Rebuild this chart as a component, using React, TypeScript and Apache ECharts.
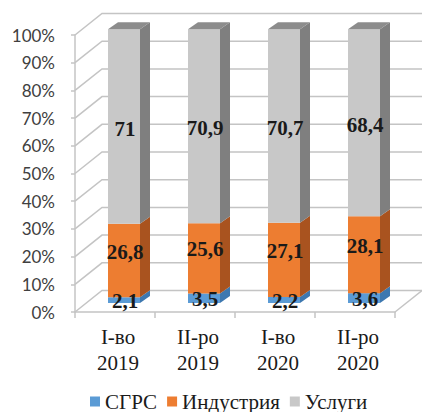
import React, { useEffect, useRef } from "react";
import * as echarts from "echarts";

// Periods on the category axis
const categories = ["I-во\n2019", "II-ро\n2019", "I-во\n2020", "II-ро\n2020"];
// Structure shares, %
const sgrs = [2.1, 3.5, 2.2, 3.6];
const industry = [26.8, 25.6, 27.1, 28.1];
const services = [71, 70.9, 70.7, 68.4];
// Value axis ticks, %
const yTicks = [0, 10, 20, 30, 40, 50, 60, 70, 80, 90, 100];

const seriesNames = ["СГРС", "Индустрия", "Услуги"];
const seriesValues = [sgrs, industry, services];
const frontColors = ["#5B9BD5", "#ED7D31", "#C8C8C8"];
const sideColors = ["#3D78B0", "#A9531F", "#7F7F7F"];
const topColors = ["#4A88C4", "#C8662A", "#8C8C8C"];
const labelShift = [1, -9, 2];

// 3D look: depth of the walls and of the bars
const WALL_DX = 27;
const WALL_DY = -21.5;
const BAR_DX = 9;
const BAR_DY = -9;
const BAR_W = 32;
const SIDE_DX = 10;
const SIDE_DY = -7;

const fmt = (v: number) => String(v).replace(".", ",");

export default function App() {
  const ref = useRef<HTMLDivElement>(null);

  useEffect(() => {
    if (!ref.current) return;
    const chart = echarts.init(ref.current, null, { renderer: "svg" });

    // 100% stacked layout built from the series values
    const stacks = seriesValues.map(() => [] as number[][]);
    categories.forEach((_, i) => {
      const total = seriesValues.reduce((s, arr) => s + arr[i], 0);
      let acc = 0;
      seriesValues.forEach((arr, k) => {
        const lo = (acc / total) * 100;
        acc += arr[i];
        const hi = (acc / total) * 100;
        stacks[k].push([i, lo, hi, arr[i], k === seriesValues.length - 1 ? 1 : 0]);
      });
    });

    const wallSeries = {
      type: "custom",
      name: "walls",
      silent: true,
      clip: false,
      z: 1,
      data: yTicks.map((t) => [0, t]),
      renderItem: (params: any, api: any) => {
        const t = api.value(1);
        const pL = api.coord([0, t]);
        const pR = api.coord([categories.length - 1, t]);
        const band = api.size([1, 0])[0];
        const x0 = pL[0] - band / 2;
        const x1 = pR[0] + band / 2;
        const y = pL[1];
        const children: any[] = [
          {
            type: "polyline",
            shape: {
              points: [
                [x0, y],
                [x0 + WALL_DX, y + WALL_DY],
                [x1 + WALL_DX, y + WALL_DY],
              ],
            },
            style: { stroke: "#C4C4C4", lineWidth: 1.5, fill: null },
          },
        ];
        if (t === 0) {
          children.push({
            type: "line",
            shape: { x1: x1, y1: y, x2: x1 + WALL_DX, y2: y + WALL_DY },
            style: { stroke: "#C4C4C4", lineWidth: 1.5 },
          });
        }
        return { type: "group", children };
      },
    };

    const barSeries = seriesNames.map((name, k) => ({
      type: "custom",
      name,
      clip: false,
      z: 5,
      itemStyle: { color: frontColors[k] },
      data: stacks[k],
      renderItem: (params: any, api: any) => {
        const idx = api.value(0);
        const lo = api.value(1);
        const hi = api.value(2);
        const val = api.value(3);
        const isTop = api.value(4) === 1;
        const base = api.coord([idx, 0]);
        const pLo = api.coord([idx, lo]);
        const pHi = api.coord([idx, hi]);
        const sy = (y: number) => base[1] + (y - base[1]) * 0.988 + BAR_DY;
        const yLo = sy(pLo[1]);
        const yHi = sy(pHi[1]);
        const cx = base[0] + BAR_DX;
        const l = cx - BAR_W / 2;
        const r = cx + BAR_W / 2;
        const children: any[] = [
          {
            type: "rect",
            shape: { x: l, y: yHi, width: BAR_W, height: yLo - yHi },
            style: { fill: frontColors[k] },
          },
          {
            type: "polygon",
            shape: {
              points: [
                [r, yHi],
                [r + SIDE_DX, yHi + SIDE_DY],
                [r + SIDE_DX, yLo + SIDE_DY],
                [r, yLo],
              ],
            },
            style: { fill: sideColors[k] },
          },
        ];
        if (isTop) {
          children.push({
            type: "polygon",
            shape: {
              points: [
                [l, yHi],
                [l + SIDE_DX, yHi + SIDE_DY],
                [r + SIDE_DX, yHi + SIDE_DY],
                [r, yHi],
              ],
            },
            style: { fill: topColors[k] },
          });
        }
        children.push({
          type: "text",
          z2: 10,
          style: {
            text: fmt(val),
            x: cx + 1,
            y: (yHi + yLo) / 2 + labelShift[k],
            align: "center",
            verticalAlign: "middle",
            fontFamily: "Liberation Serif",
            fontWeight: "bold",
            fontSize: 21,
            fill: "#1A1A1A",
          },
        });
        return { type: "group", children };
      },
    }));

    chart.setOption({
      animation: false,
      backgroundColor: "#FFFFFF",
      grid: { left: 75, right: 27, top: 35, bottom: 100 },
      legend: {
        data: seriesNames,
        left: 90,
        top: 391,
        padding: 0,
        icon: "rect",
        itemWidth: 10,
        itemHeight: 10,
        itemGap: 10,
        textStyle: {
          fontFamily: "Liberation Serif",
          fontSize: 21,
          lineHeight: 20,
          color: "#1A1A1A",
        },
      },
      xAxis: {
        type: "category",
        data: categories,
        axisLine: { show: true, lineStyle: { color: "#C4C4C4", width: 1.5 } },
        axisTick: { show: true, length: 6, lineStyle: { color: "#C4C4C4", width: 1.5 } },
        axisLabel: {
          fontFamily: "Liberation Serif",
          fontSize: 21,
          lineHeight: 26,
          color: "#1A1A1A",
          margin: 12,
          padding: [0, 0, 0, 6],
        },
      },
      yAxis: {
        type: "value",
        min: 0,
        max: 100,
        interval: 10,
        axisLine: { show: true, lineStyle: { color: "#C4C4C4", width: 1.5 } },
        axisTick: { show: true, length: 4, lineStyle: { color: "#C4C4C4", width: 1.5 } },
        splitLine: { show: false },
        axisLabel: {
          formatter: "{value}%",
          fontFamily: "Lato",
          fontSize: 17,
          color: "#404040",
          margin: 20,
        },
      },
      series: [wallSeries, ...barSeries],
    });

    return () => chart.dispose();
  }, []);

  return (
    <div
      ref={ref}
      style={{ position: "fixed", left: 0, top: 0, width: 422, height: 412 }}
    />
  );
}
